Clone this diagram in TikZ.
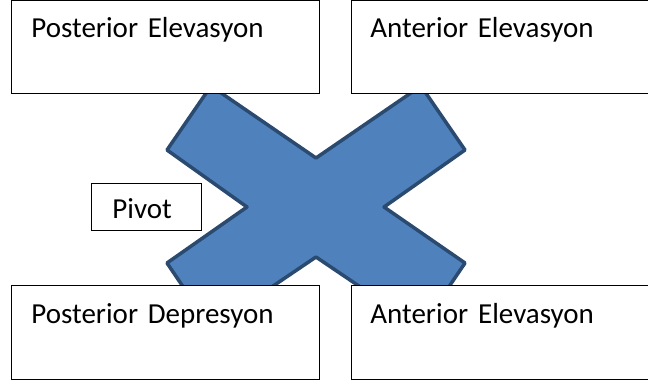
\documentclass[tikz,border=0pt]{standalone}
\usepackage{fontspec}
\setmainfont{Carlito}
\usepackage{xcolor}
\usepackage{tikz}
\definecolor{crossfill}{HTML}{4F81BD}
\definecolor{crossline}{HTML}{2A4A70}

\begin{document}
\begin{tikzpicture}[x=1pt, y=-1pt, font=\fontsize{29}{34}\selectfont,
  box/.style={draw=black, line width=0.8pt, fill=white, rectangle, anchor=north west, align=left, inner ysep=0pt},
  bigbox/.style={box, text height=37pt, text depth=56pt, inner xsep=20pt, text width=268pt},
  crossshape/.style={fill=crossfill, draw=crossline, line width=3.5pt, line join=round}]
  \useasboundingbox (0,0) rectangle (648,385);
  % the cross behind the boxes
  \draw[crossshape] (211,86) -- (316,158) -- (421,86) -- (465,150) -- (384,207) -- (465,263)
    -- (421,328) -- (316,257) -- (211,328) -- (167,263) -- (247,207) -- (167,150) -- cycle;
  \node[bigbox] (postelev) at (11,0.5) {Posterior Elevasyon};
  \node[bigbox, inner xsep=19pt, text width=290pt] (antelev) at (351,0.5) {Anterior Elevasyon};
  \node[bigbox, text height=38pt] (postdep) at (11,285) {Posterior Depresyon};
  \node[bigbox, text height=38pt, inner xsep=19pt, text width=290pt] (antelevb) at (351,285) {Anterior\hspace{10pt}Elevasyon};
  \node[box, text height=35pt, text depth=12pt, inner xsep=21pt, text width=68pt] (pivot) at (91,183) {Pivot};
\end{tikzpicture}
\end{document}
